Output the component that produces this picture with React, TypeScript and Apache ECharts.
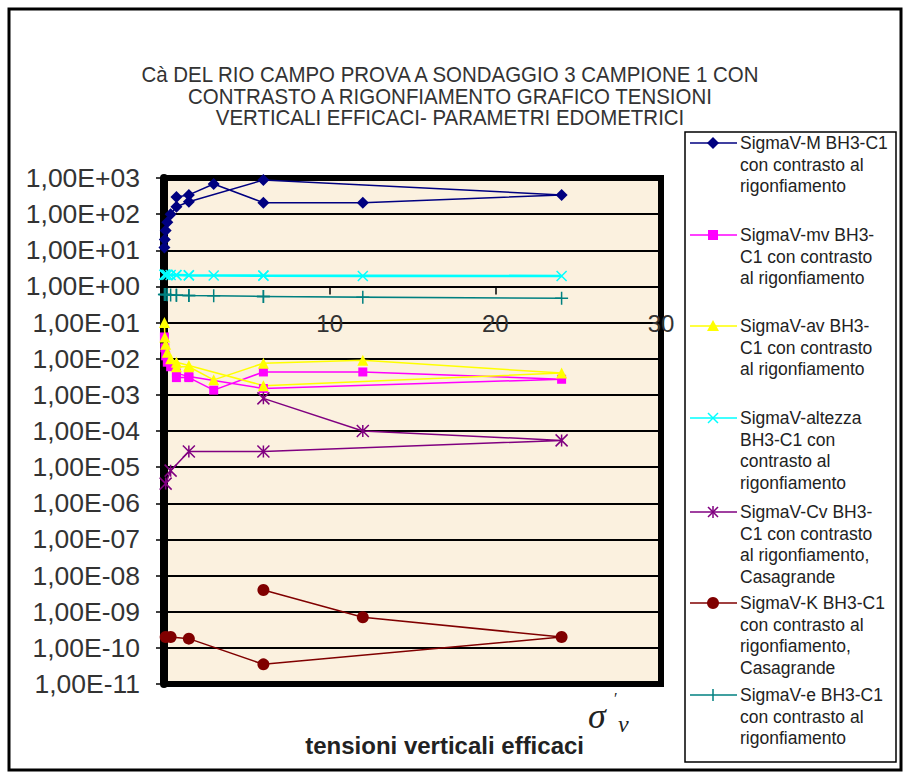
import React, { useEffect, useRef } from 'react';
import * as echarts from 'echarts';

// sigma'v steps: loading then unloading
const SIGMA_V = [0.025, 0.05, 0.1, 0.2, 0.4, 0.75, 1.5, 6, 24, 12, 6, 3, 1.5, 0.75];

const M_VALUES = [12, 20, 35, 60, 100, 160, 220, 880, 340, 208, 208, 680, 340, 300];
const MV_VALUES = [4e-2, 2e-2, 1.2e-2, 8e-3, 6e-3, 4e-3, 3.2e-3, 1.5e-3, 2.7e-3, 4.3e-3, 4.3e-3, 1.35e-3, 3e-3, 3e-3];
const AV_VALUES = [1e-1, 4e-2, 2.5e-2, 1.5e-2, 1e-2, 8e-3, 6.5e-3, 1.8e-3, 4e-3, 9e-3, 7.5e-3, 2.6e-3, 6e-3, 6e-3];
const ALTEZZA_VALUES = [2.1, 2.1, 2.1, 2.1, 2.08, 2.07, 2.05, 2.0, 1.95, 1.95, 1.97, 2.0, 2.02, 2.03];
const CV_VALUES = [null, null, 3.5e-6, null, 8e-6, null, 2.7e-5, 2.7e-5, 5.5e-5, 1e-4, 8e-4, null, null, null];
const K_VALUES = [null, null, 2e-10, null, 2e-10, null, 1.8e-10, 3.5e-11, 2e-10, 7e-10, 4e-9, null, null, null];
const E_VALUES = [0.6, 0.6, 0.6, 0.59, 0.58, 0.57, 0.56, 0.53, 0.47, 0.5, 0.53, 0.55, 0.56, 0.57];

const SERIES_NAMES = [
  ['SigmaV-M BH3-C1', 'con contrasto al', 'rigonfiamento'],
  ['SigmaV-mv BH3-', 'C1 con contrasto', 'al rigonfiamento'],
  ['SigmaV-av BH3-', 'C1 con contrasto', 'al rigonfiamento'],
  ['SigmaV-altezza', 'BH3-C1 con', 'contrasto al', 'rigonfiamento'],
  ['SigmaV-Cv BH3-', 'C1 con contrasto', 'al rigonfiamento,', 'Casagrande'],
  ['SigmaV-K BH3-C1', 'con contrasto al', 'rigonfiamento,', 'Casagrande'],
  ['SigmaV-e BH3-C1', 'con contrasto al', 'rigonfiamento'],
];
const SERIES_VALUES = [M_VALUES, MV_VALUES, AV_VALUES, ALTEZZA_VALUES, CV_VALUES, K_VALUES, E_VALUES];
const COLORS = ['#000080', '#FF00FF', '#FFFF00', '#00FFFF', '#800080', '#800000', '#008080'];
const MARKERS = ['diamond', 'square', 'triangle', 'x', 'star', 'circle', 'plus'];

const TITLE_LINES = [
  'Cà DEL RIO CAMPO PROVA A SONDAGGIO 3 CAMPIONE 1 CON',
  'CONTRASTO A RIGONFIAMENTO GRAFICO TENSIONI',
  'VERTICALI EFFICACI- PARAMETRI EDOMETRICI',
];
const X_TITLE = 'tensioni verticali efficaci';

const X_MIN = 0;
const X_MAX = 30;
const X_INTERVAL = 10;
const Y_MIN = 1e-11;
const Y_MAX = 1e3;

const fmtExp = (v: number) => {
  const e = Math.round(Math.log10(v));
  const s = e < 0 ? '-' : '+';
  return `1,00E${s}${String(Math.abs(e)).padStart(2, '0')}`;
};

const SYMBOLS: Record<string, string> = {
  diamond: 'diamond',
  square: 'rect',
  triangle: 'triangle',
  circle: 'circle',
  x: 'path://M0,0L10,10M10,0L0,10',
  star: 'path://M5,0L5,10M0,0L10,10M10,0L0,10',
  plus: 'path://M5,0L5,10M0,5L10,5',
};
const SYMBOL_SIZES: Record<string, number> = {
  diamond: 12, square: 9, triangle: 11, circle: 12, x: 10, star: 12, plus: 13,
};

function legendMarker(kind: string, cx: number, cy: number, color: string): any {
  const lineStyle = { stroke: color, lineWidth: 1.5 };
  switch (kind) {
    case 'diamond':
      return { type: 'polygon', shape: { points: [[cx, cy - 6], [cx + 6, cy], [cx, cy + 6], [cx - 6, cy]] }, style: { fill: color } };
    case 'square':
      return { type: 'rect', shape: { x: cx - 5, y: cy - 5, width: 10, height: 10 }, style: { fill: color } };
    case 'triangle':
      return { type: 'polygon', shape: { points: [[cx, cy - 6], [cx + 6, cy + 5], [cx - 6, cy + 5]] }, style: { fill: color } };
    case 'circle':
      return { type: 'circle', shape: { cx, cy, r: 6 }, style: { fill: color } };
    case 'x':
      return { type: 'group', children: [
        { type: 'line', shape: { x1: cx - 5, y1: cy - 5, x2: cx + 5, y2: cy + 5 }, style: lineStyle },
        { type: 'line', shape: { x1: cx + 5, y1: cy - 5, x2: cx - 5, y2: cy + 5 }, style: lineStyle },
      ] };
    case 'star':
      return { type: 'group', children: [
        { type: 'line', shape: { x1: cx, y1: cy - 6, x2: cx, y2: cy + 6 }, style: lineStyle },
        { type: 'line', shape: { x1: cx - 5, y1: cy - 5, x2: cx + 5, y2: cy + 5 }, style: lineStyle },
        { type: 'line', shape: { x1: cx + 5, y1: cy - 5, x2: cx - 5, y2: cy + 5 }, style: lineStyle },
      ] };
    case 'plus':
    default:
      return { type: 'group', children: [
        { type: 'line', shape: { x1: cx, y1: cy - 6, x2: cx, y2: cy + 6 }, style: lineStyle },
      ] };
  }
}

export default function App() {
  const ref = useRef<HTMLDivElement>(null);

  useEffect(() => {
    if (!ref.current) return;
    const chart = echarts.init(ref.current, null, { renderer: 'svg' });

    const gridLeft = 164;
    const gridTop = 178;
    const gridWidth = 497;
    const gridHeight = 506;
    const decades = Math.log10(Y_MAX) - Math.log10(Y_MIN);
    const xAxisOffset = -gridHeight * (Math.log10(1) - Math.log10(Y_MIN)) / decades;

    const series = SERIES_VALUES.map((vals, i) => {
      const kind = MARKERS[i];
      const lineOnly = kind === 'x' || kind === 'star' || kind === 'plus';
      return {
        name: SERIES_NAMES[i].join(' '),
        type: 'line',
        data: SIGMA_V.map((x, j) => (vals[j] == null ? null : [x, vals[j]])).filter((d) => d != null),
        symbol: SYMBOLS[kind],
        symbolSize: SYMBOL_SIZES[kind],
        lineStyle: { color: COLORS[i], width: kind === 'x' ? 2.5 : 1.5 },
        itemStyle: lineOnly
          ? { color: COLORS[i], borderColor: COLORS[i], borderWidth: 1.5 }
          : { color: COLORS[i], borderWidth: 0 },
        z: 3,
      };
    });

    const legendX = 685;
    const legendY = 132;
    const legendLineH = 21.7;
    const entryY = [143, 235, 326, 418, 512, 603, 695];
    const legendChildren: any[] = [
      { type: 'rect', shape: { x: legendX, y: legendY, width: 211, height: 630 }, style: { fill: '#fff', stroke: '#000', lineWidth: 1.5 } },
    ];
    SERIES_NAMES.forEach((lines, i) => {
      const cy = entryY[i];
      legendChildren.push({ type: 'line', shape: { x1: 690, y1: cy, x2: 737, y2: cy }, style: { stroke: COLORS[i], lineWidth: 1.5 } });
      legendChildren.push(legendMarker(MARKERS[i], 713, cy, COLORS[i]));
      legendChildren.push({
        type: 'text',
        style: {
          text: lines.join('\n'),
          x: 740,
          y: cy - legendLineH / 2,
          fontSize: 17.5,
          lineHeight: legendLineH,
          fontFamily: "'Liberation Sans', Arial, sans-serif",
          fill: '#222',
          align: 'left',
          verticalAlign: 'top',
        },
      });
    });

    const titleTexts = TITLE_LINES.map((line, i) => ({
      type: 'text',
      x: 450,
      y: 75 + i * 21.5,
      scaleX: 0.93,
      style: {
        text: line,
        x: 0,
        y: 0,
        fontSize: 22,
        fontFamily: "'Liberation Sans Narrow', 'Arial Narrow', 'Liberation Sans', sans-serif",
        fill: '#333',
        align: 'center',
        verticalAlign: 'middle',
      },
    }));

    chart.setOption({
      animation: false,
      backgroundColor: '#fff',
      grid: {
        left: gridLeft,
        top: gridTop,
        width: gridWidth,
        height: gridHeight,
        show: true,
        backgroundColor: '#FBF1DF',
        borderColor: '#000',
        borderWidth: 6,
        containLabel: false,
      },
      xAxis: {
        type: 'value',
        min: X_MIN,
        max: X_MAX,
        interval: X_INTERVAL,
        position: 'bottom',
        offset: xAxisOffset,
        axisLine: { show: true, lineStyle: { color: '#000', width: 2 } },
        axisTick: { show: true, length: 8, lineStyle: { color: '#000', width: 1.5 } },
        axisLabel: {
          margin: 25,
          fontSize: 24,
          color: '#333',
          fontFamily: "'Liberation Sans', Arial, sans-serif",
          formatter: (v: number) => (v === 0 ? '' : String(v)),
        },
        splitLine: { show: false },
      },
      yAxis: {
        type: 'log',
        logBase: 10,
        min: Y_MIN,
        max: Y_MAX,
        interval: 1,
        axisLine: { show: true, lineStyle: { color: '#000', width: 8 } },
        axisTick: { show: true, length: 8, lineStyle: { color: '#000', width: 1.5 } },
        axisLabel: {
          margin: 24,
          fontSize: 26.5,
          color: '#333',
          fontFamily: "'Liberation Sans', Arial, sans-serif",
          formatter: fmtExp,
        },
        splitLine: { show: true, lineStyle: { color: '#000', width: 2 } },
        minorTick: { show: false },
      },
      series,
      graphic: [
        { type: 'rect', shape: { x: 9, y: 9, width: 892, height: 761 }, style: { fill: 'none', stroke: '#000', lineWidth: 3 }, z: 0, silent: true },
        ...titleTexts,
        { type: 'group', children: legendChildren, z: 10 },
        {
          type: 'text',
          style: {
            text: X_TITLE,
            x: 584,
            y: 745,
            fontSize: 24,
            fontWeight: 'bold',
            fontFamily: "'Liberation Sans', Arial, sans-serif",
            fill: '#222',
            align: 'right',
            verticalAlign: 'middle',
          },
        },
        {
          type: 'text',
          style: { text: 'σ', x: 588, y: 716, fontSize: 36, fontStyle: 'italic', fontFamily: "'Liberation Serif', 'DejaVu Serif', serif", fill: '#222', align: 'left', verticalAlign: 'middle' },
        },
        {
          type: 'text',
          style: { text: 'v', x: 618, y: 724, fontSize: 24, fontStyle: 'italic', fontFamily: "'Liberation Serif', 'DejaVu Serif', serif", fill: '#222', align: 'left', verticalAlign: 'middle' },
        },
        {
          type: 'text',
          style: { text: '\u2032', x: 614, y: 698, fontSize: 16, fontFamily: "'Liberation Serif', 'DejaVu Serif', serif", fill: '#222', align: 'left', verticalAlign: 'middle' },
        },
      ],
    });

    return () => chart.dispose();
  }, []);

  return <div ref={ref} style={{ position: 'absolute', left: 0, top: 0, width: 905, height: 778 }} />;
}
